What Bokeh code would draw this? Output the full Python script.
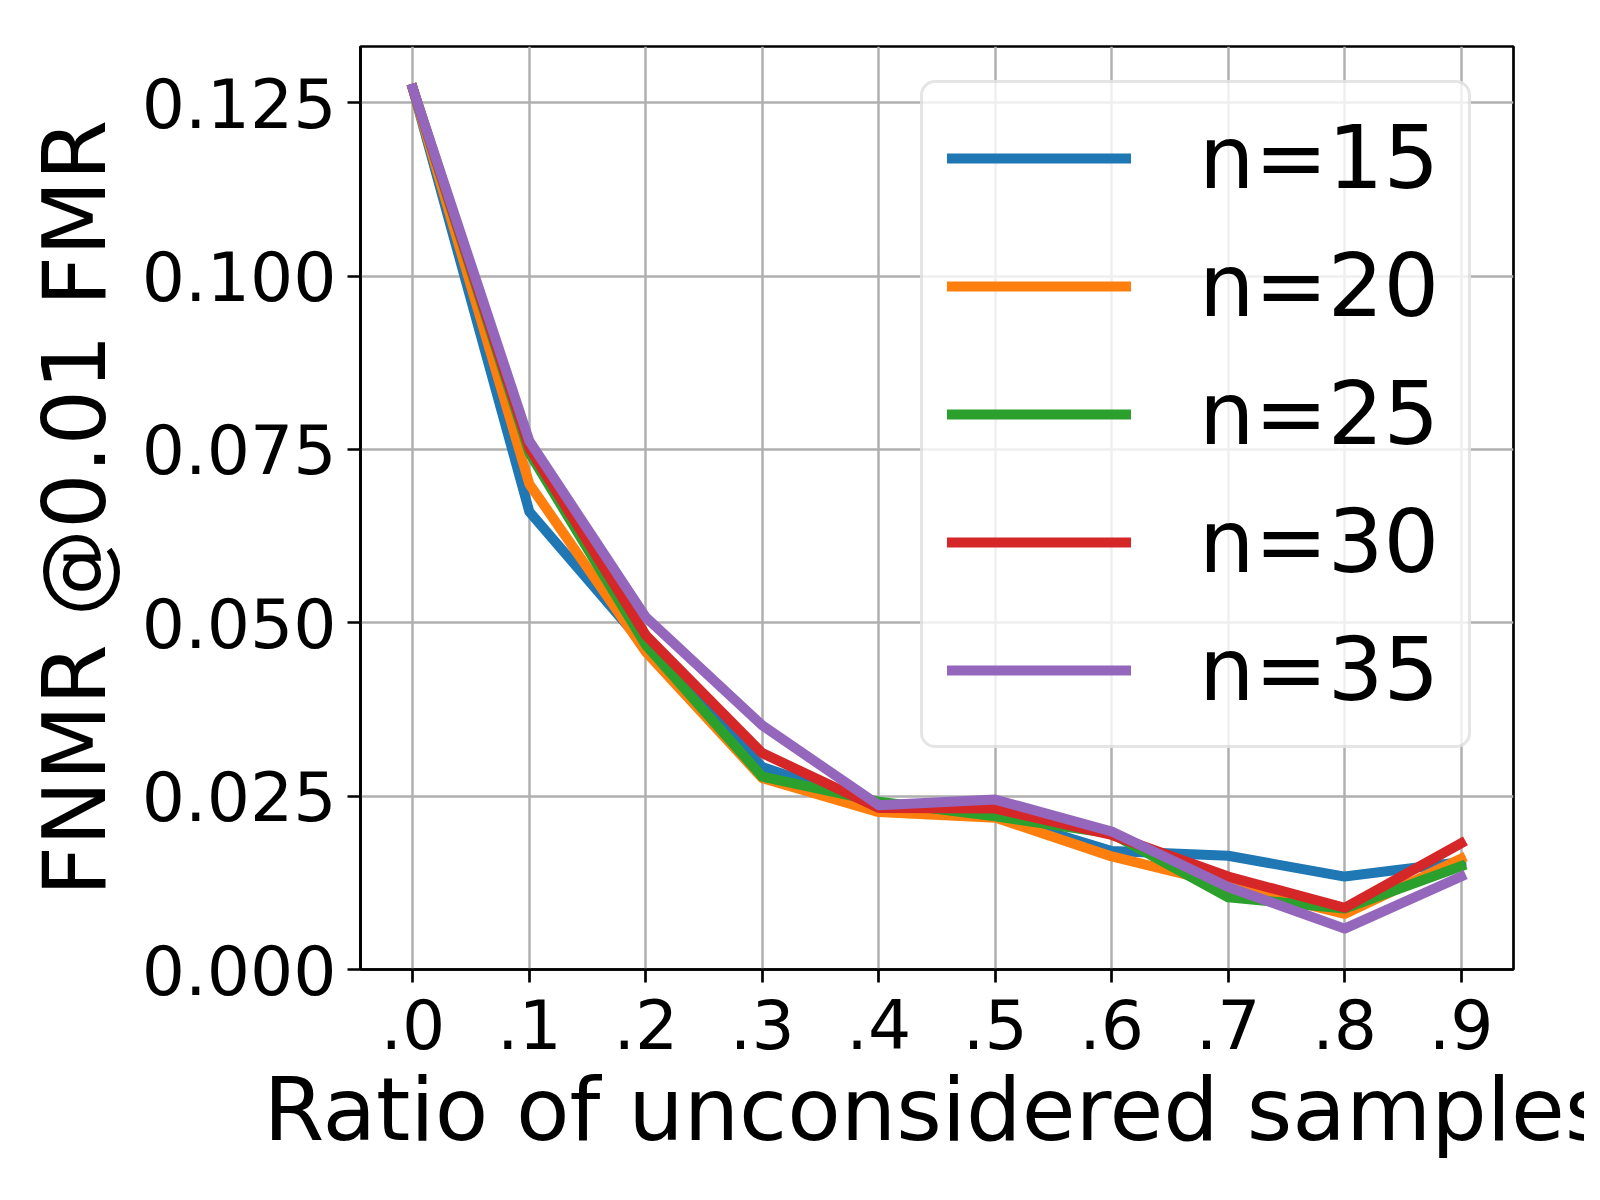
from bokeh.plotting import figure
from bokeh.models import Range1d, FixedTicker, Legend
from bokeh.embed import file_html
from bokeh.resources import INLINE

# ---- data ----
ratios = [0.0, 0.1, 0.2, 0.3, 0.4, 0.5, 0.6, 0.7, 0.8, 0.9]
x_tick_labels = [".0", ".1", ".2", ".3", ".4", ".5", ".6", ".7", ".8", ".9"]
y_ticks = [0.0, 0.025, 0.05, 0.075, 0.1, 0.125]
y_tick_labels = ["0.000", "0.025", "0.050", "0.075", "0.100", "0.125"]

series_names = ["n=15", "n=20", "n=25", "n=30", "n=35"]
n15 = [0.127, 0.066, 0.0465, 0.0292, 0.0235, 0.0222, 0.0171, 0.0164, 0.0134, 0.0155]
n20 = [0.127, 0.070, 0.0458, 0.0276, 0.0227, 0.0219, 0.0163, 0.0122, 0.0080, 0.0160]
n25 = [0.127, 0.0745, 0.0468, 0.0278, 0.0242, 0.0221, 0.0196, 0.0104, 0.0088, 0.0149]
n30 = [0.127, 0.0752, 0.0482, 0.0312, 0.0233, 0.0232, 0.0194, 0.0134, 0.0089, 0.0182]
n35 = [0.127, 0.0762, 0.0508, 0.0352, 0.0237, 0.0245, 0.0199, 0.0119, 0.0059, 0.0134]
colors = ["#1f77b4", "#ff7f0e", "#2ca02c", "#d62728", "#9467bd"]

FONT = "DejaVu Sans"

p = figure(
    frame_width=1153, frame_height=923,
    min_border_left=360, min_border_right=71,
    min_border_top=46, min_border_bottom=215,
    x_range=Range1d(-0.045, 0.945), y_range=Range1d(0.0, 0.1331),
    output_backend="svg", toolbar_location=None,
    background_fill_color="white", border_fill_color="white",
)

for name, ys, c in zip(series_names, [n15, n20, n25, n30, n35], colors):
    p.line(ratios, ys, line_color=c, line_width=10, line_join="round",
           line_cap="square", legend_label=name)

# axes
p.xaxis.ticker = FixedTicker(ticks=ratios)
p.xaxis.major_label_overrides = {t: l for t, l in zip(ratios, x_tick_labels)}
p.yaxis.ticker = FixedTicker(ticks=y_ticks)
p.yaxis.major_label_overrides = {t: l for t, l in zip(y_ticks, y_tick_labels)}

p.xaxis.axis_label = "Ratio of unconsidered samples"
p.yaxis.axis_label = "FNMR @0.01 FMR"

for ax in (p.xaxis[0], p.yaxis[0]):
    ax.axis_label_text_font = FONT
    ax.axis_label_text_font_size = "87.5px"
    ax.axis_label_text_font_style = "normal"
    ax.axis_label_text_color = "black"
    ax.major_label_text_font = FONT
    ax.major_label_text_font_size = "68px"
    ax.major_label_text_color = "black"
    ax.axis_line_color = "black"
    ax.axis_line_width = 2.7
    ax.major_tick_line_color = "black"
    ax.major_tick_line_width = 2.7
    ax.major_tick_out = 13
    ax.major_tick_in = 0
    ax.minor_tick_line_color = None

p.xaxis.major_label_standoff = 16
p.xaxis.axis_label_standoff = 7
p.yaxis.major_label_standoff = 11
p.yaxis.axis_label_standoff = 13

p.outline_line_color = "black"
p.outline_line_width = 2.7

for g in (p.xgrid[0], p.ygrid[0]):
    g.grid_line_color = "#b0b0b0"
    g.grid_line_width = 2.5

# legend (bottom-left corner given relative to the frame's bottom-left)
leg = p.legend[0]
leg.location = (560, 221)
leg.margin = 0
leg.padding = 24
leg.spacing = 26
leg.glyph_width = 184
leg.glyph_height = 100
leg.label_height = 100
leg.label_width = 245
leg.label_standoff = 68
leg.label_text_font = FONT
leg.label_text_font_size = "87.5px"
leg.label_text_color = "black"
leg.border_line_color = "#cccccc"
leg.border_line_width = 3
leg.background_fill_color = "white"
leg.background_fill_alpha = 0.8
if "border_radius" in Legend.properties():
    leg.border_radius = 15

open("out.html", "w").write(file_html(p, INLINE))
